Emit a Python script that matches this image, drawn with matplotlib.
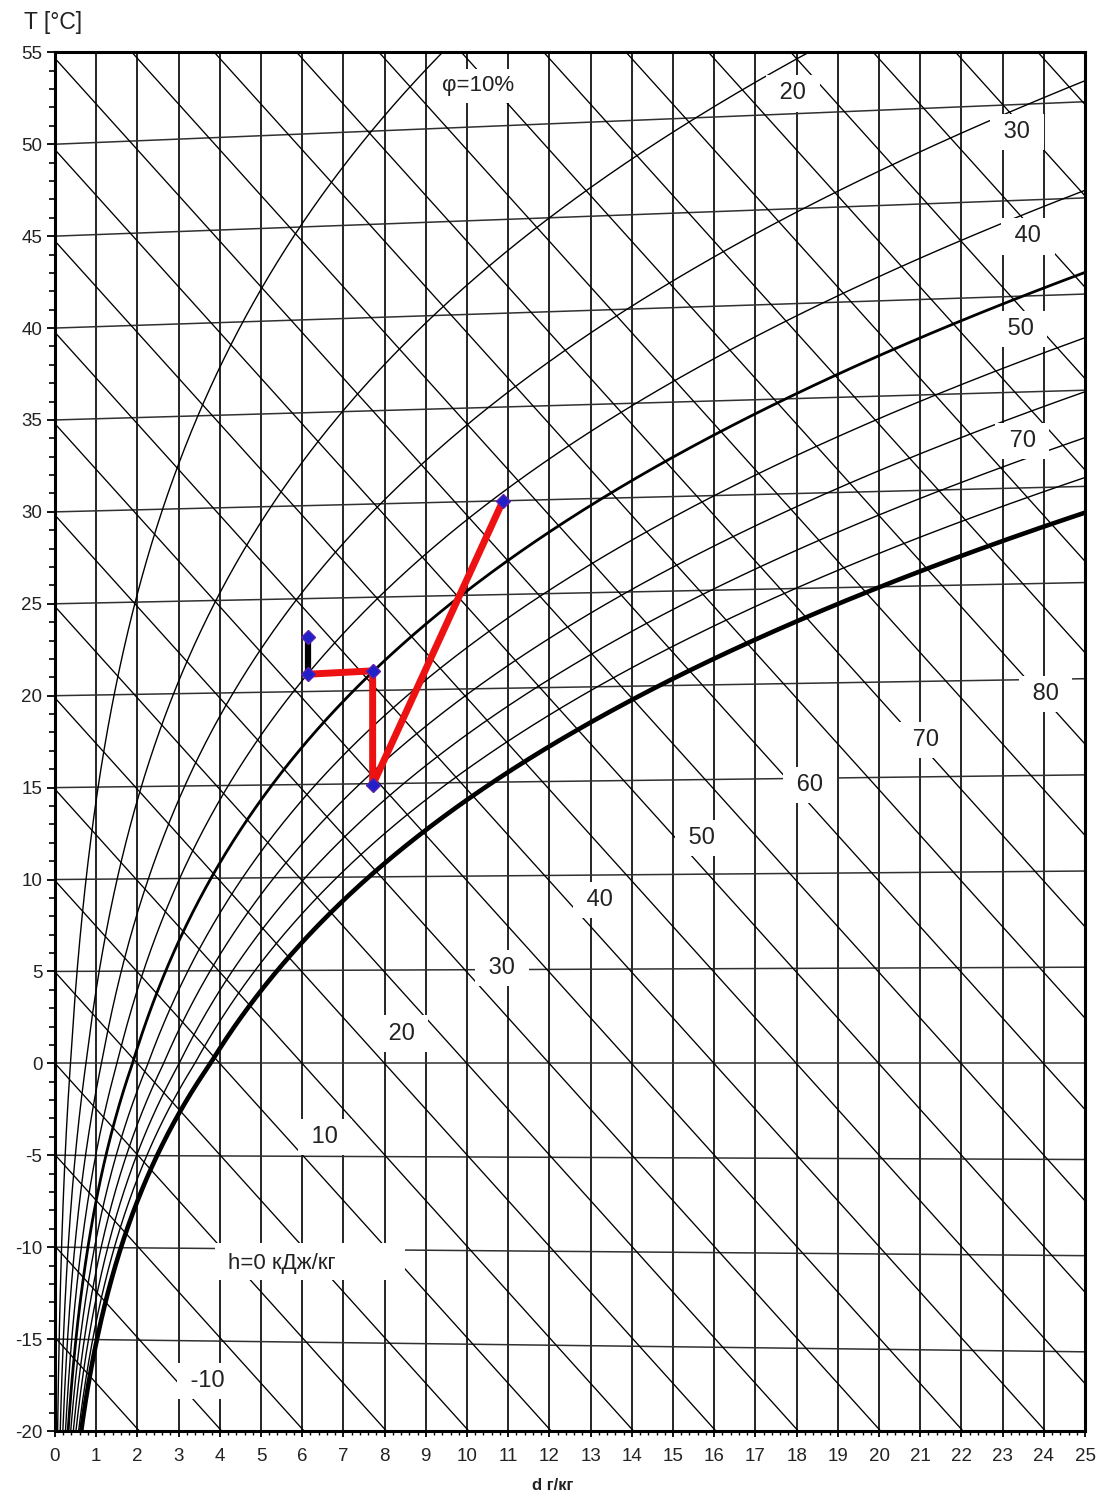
import numpy as np
import matplotlib
matplotlib.use("Agg")
import matplotlib.pyplot as plt
from matplotlib.patches import Rectangle
from matplotlib.ticker import MultipleLocator

plt.rcParams["font.family"] = ["Liberation Sans", "DejaVu Sans"]
plt.rcParams["axes.unicode_minus"] = False

# --- chart data -------------------------------------------------------------
P_ATM = 101.325                       # kPa
ISOTHERMS = list(range(-20, 60, 5))   # dry-bulb temperature lines, degC
ENTHALPIES = list(range(-20, 125, 5)) # kJ/kg lines
RH_LEVELS = [10, 20, 30, 40, 50, 60, 70, 80, 90, 100]
RH_BOLD = {50: 2.0, 100: 3.3}

# air-treatment process (d g/kg, T degC)
PROC_D = [6.15, 6.15, 7.71, 7.71, 10.87]
PROC_T = [23.2, 21.17, 21.35, 15.14, 30.59]

# enthalpy labels and where they sit on the chart
H_TEXT = ["-10", "10", "20", "30", "40", "50", "60", "70", "80"]
H_POS_D = [3.70, 6.55, 8.41, 10.85, 13.23, 15.70, 18.33, 21.13, 24.04]
H_POS_T = [-17.28, -3.99, 1.62, 5.20, 8.87, 12.25, 15.14, 17.61, 20.11]

# relative humidity labels
RH_TEXT = ["φ=10%", "20", "30", "40", "50", "70"]
RH_POS_D = [10.28, 17.91, 23.35, 23.61, 23.43, 23.48]
RH_POS_T = [53.17, 52.76, 50.68, 44.98, 39.97, 33.85]


def p_sat(t):
    t = np.asarray(t, dtype=float)
    water = 0.61094 * np.exp(17.625 * t / (t + 243.04))
    ice = 0.61115 * np.exp(22.452 * t / (272.55 + t))
    return np.where(t >= 0, water, ice)


def chart_y(t, d):
    # vertical coordinate of the oblique Mollier chart (equals T at d=0)
    return t + 0.00186 * t * d / 1.006


fig = plt.figure(figsize=(11.06, 14.97), dpi=100)
ax = fig.add_axes([55 / 1106, 1 - 1431 / 1497, 1030 / 1106, 1378.7 / 1497])
ax.set_xlim(0, 25)
ax.set_ylim(-20, 55)

# vertical grid (constant moisture content)
for d in range(0, 26):
    ax.axvline(d, color="black", lw=1.2, zorder=1)

dd = np.linspace(0, 25, 200)
for t in ISOTHERMS:
    ax.plot(dd, chart_y(t, dd), color="#303030", lw=1.1, zorder=2)

for h in ENTHALPIES:
    ax.plot(dd, (h - 2.501 * dd) / 1.006, color="black", lw=0.95, zorder=2)

tt = np.linspace(-25, 70, 3000)
ps = p_sat(tt)
for phi in RH_LEVELS:
    pv = phi / 100 * ps
    ok = pv < P_ATM * 0.95
    d = 622 * pv[ok] / (P_ATM - pv[ok])
    ax.plot(d, chart_y(tt[ok], d), color="black",
            lw=RH_BOLD.get(phi, 1.0), zorder=3)

box = dict(boxstyle="square,pad=0.3", fc="white", ec="none")
for s, x, y in zip(H_TEXT, H_POS_D, H_POS_T):
    ax.text(x, y, f" {s} ", ha="center", va="center", fontsize=17,
            color="#222222", bbox=box, zorder=5)
for s, x, y in zip(RH_TEXT, RH_POS_D, RH_POS_T):
    ax.text(x, y, f" {s} ", ha="center", va="center",
            fontsize=16 if s.startswith("φ") else 17,
            color="#222222", bbox=box, zorder=5)

ax.add_patch(Rectangle((3.88, -11.79), 4.62, 2.01, fc="white", ec="none",
                       zorder=5))
ax.text(5.51, -10.87, "h=0 кДж/кг", ha="center", va="center", fontsize=16,
        color="#222222", zorder=6)

# process path
ax.plot(PROC_D[:2], PROC_T[:2], color="black", lw=4.5, zorder=7,
        solid_capstyle="butt")
ax.plot(PROC_D[1:], PROC_T[1:], color="#ee1111", lw=5, zorder=7,
        solid_joinstyle="round", solid_capstyle="butt")
ax.plot(PROC_D, PROC_T, ls="none", marker="D", ms=7, mfc="#2020c8",
        mec="#5a20b0", mew=1, zorder=8)

ax.xaxis.set_major_locator(MultipleLocator(1))
ax.xaxis.set_minor_locator(MultipleLocator(0.2))
ax.yaxis.set_major_locator(MultipleLocator(5))
ax.yaxis.set_minor_locator(MultipleLocator(1))
ax.tick_params(axis="both", which="major", direction="out", width=1.3,
               labelsize=13.5, labelcolor="#222222")
ax.tick_params(axis="y", which="major", length=6, pad=3)
ax.tick_params(axis="y", which="minor", direction="out", length=4, width=1.2)
ax.tick_params(axis="x", which="major", length=4, pad=8)
ax.tick_params(axis="x", which="minor", direction="out", length=3, width=1.0)
for sp in ax.spines.values():
    sp.set_linewidth(2.2)
    sp.set_zorder(9)

fig.text(53.5 / 1106, 1 - 23 / 1497, "T [°C]", ha="center", va="center",
         fontsize=16.5, color="#222222")
fig.text(553 / 1106, 1 - 1485 / 1497, "d г/кг", ha="center", va="center",
         fontsize=12, fontweight="bold", color="#222222")

fig.savefig("out.png", dpi=100, facecolor="white")
